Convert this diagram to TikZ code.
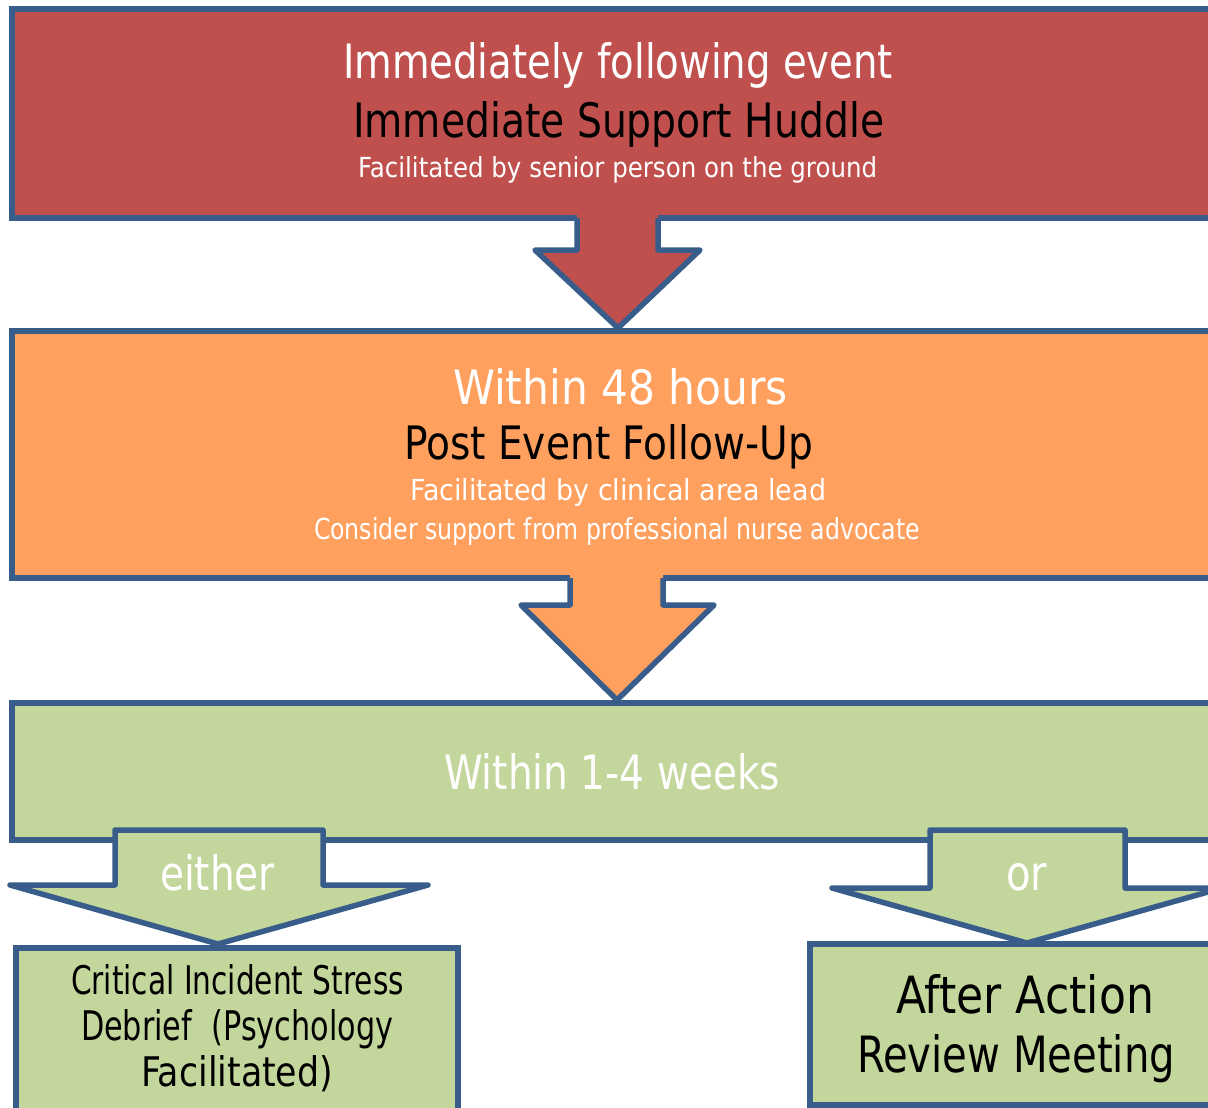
\documentclass[tikz,border=0pt]{standalone}
\usepackage{fontspec}
\setmainfont{DejaVu Sans}
\usepackage{graphicx}
\definecolor{bord}{HTML}{385D8A}
\definecolor{redf}{HTML}{C0504D}
\definecolor{orangef}{HTML}{FFA05E}
\definecolor{greenf}{HTML}{C3D69B}
\newcommand\fitline[3]{\resizebox{#1pt}{#2pt}{#3}}
\begin{document}
\begin{tikzpicture}[x=1pt,y=-1pt,line join=round,
  box/.style={draw=bord,line width=5.5pt,line join=miter},
  edge/.style={draw=bord,line width=5.5pt},
  txt/.style={anchor=base west,inner sep=0pt,outer sep=0pt}]
\useasboundingbox (0,0) rectangle (1208,1108);
\clip (0,0) rectangle (1208,1108);
\fill[white] (0,0) rectangle (1208,1108);

% red box and arrow
\path[box,fill=redf] (12,9) rectangle (1230,218);
\fill[redf] (577,212) -- (577,250) -- (535,250) -- (618,328) -- (700,250) -- (658,250) -- (658,212) -- cycle;
\path[edge] (577,218) -- (577,250) -- (535,250) -- (618,328) -- (700,250) -- (658,250) -- (658,218);

% orange box and arrow
\path[box,fill=orangef] (12,331) rectangle (1230,578);
\fill[orangef] (570,572) -- (570,605) -- (521,605) -- (617,700) -- (714,605) -- (663,605) -- (663,572) -- cycle;
\path[edge] (570,578) -- (570,605) -- (521,605) -- (617,700) -- (714,605) -- (663,605) -- (663,578);

% green box
\path[box,fill=greenf] (12,703) rectangle (1230,840);
% either / or arrows
\path[edge,fill=greenf] (115,830) -- (323,830) -- (323,885) -- (428,885) -- (218,944) -- (10,885) -- (115,885) -- cycle;
\path[edge,fill=greenf] (930,830) -- (1125,830) -- (1125,888) -- (1222,888) -- (1027,943) -- (832,888) -- (930,888) -- cycle;

% bottom boxes
\path[box,fill=greenf] (16,948) rectangle (458,1120);
\path[box,fill=greenf] (810,944) rectangle (1230,1105);

% texts
\node[txt,text=white] (r1) at (343,78) {\fitline{550}{36}{Immediately following event}};
\node[txt,text=black] (r2) at (353,137) {\fitline{531}{36}{Immediate Support Huddle}};
\node[txt,text=white] (r3) at (358,177) {\fitline{519}{21}{Facilitated by senior person on the ground}};

\node[txt,text=white] (o1) at (453,404) {\fitline{335}{36}{Within 48 hours}};
\node[txt,text=black] (o2) at (404,459) {\fitline{409}{35}{Post Event Follow-Up}};
\node[txt,text=white] (o3) at (410,500) {\fitline{416}{22}{Facilitated by clinical area lead}};
\node[txt,text=white] (o4) at (314,539) {\fitline{606}{22}{Consider support from professional nurse advocate}};

\node[txt,text=white] (g1) at (444,789) {\fitline{336}{36}{Within 1-4 weeks}};
\node[txt,text=white] (e1) at (160,890) {\fitline{115}{36}{either}};
\node[txt,text=white] (e2) at (1006,890) {\fitline{41}{27}{or}};

\node[txt,text=black] (c1) at (71,994) {\fitline{333}{30}{Critical Incident Stress}};
\node[txt,text=black] (c2) at (81,1040) {\fitline{312}{31}{Debrief\ \ (Psychology}};
\node[txt,text=black] (c3) at (141,1086) {\fitline{192}{31}{Facilitated)}};

\node[txt,text=black] (a1) at (896,1013) {\fitline{258}{39}{After Action}};
\node[txt,text=black] (a2) at (857,1072) {\fitline{318}{38}{Review Meeting}};
\end{tikzpicture}
\end{document}
